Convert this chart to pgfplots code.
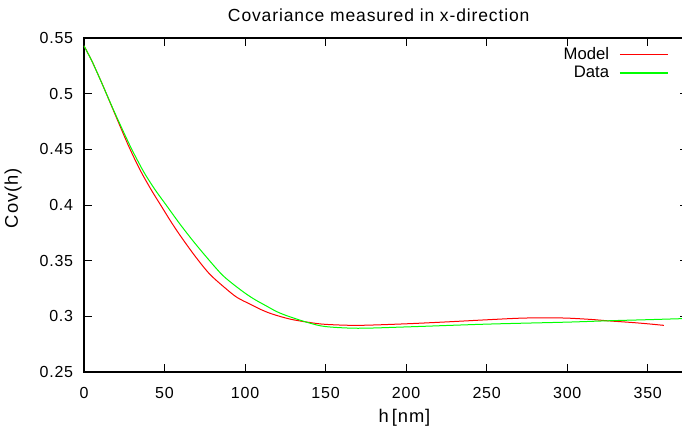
\documentclass[border=0pt]{standalone}
\usepackage{pgfplots}
\pgfplotsset{compat=1.18}
\usepackage{fontspec}
\setmainfont{Liberation Sans}
\newfontfamily\spaced{Liberation Sans}[LetterSpace=5]

% 1 px of the reference = 0.6pt
\begin{document}
\begin{tikzpicture}
\begin{axis}[
    at={(0,0)}, anchor=south west,
    scale only axis,
    width=362.4pt, height=200.4pt,
    xmin=0, xmax=375,
    ymin=0.25, ymax=0.55,
    xtick={0,50,...,350},
    ytick={0.25,0.3,0.35,0.4,0.45,0.5,0.55},
    yticklabels={0.25,0.3,0.35,0.4,0.45,0.5,0.55},
    tick align=inside,
    major tick length=4.8pt,
    tick style={black, line width=0.6pt},
    axis line style={line width=0.8pt},
    tick label style={font=\spaced\fontsize{9.6}{11}\selectfont},
    /pgf/number format/assume math mode=true,
    xticklabel style={yshift=-5.5pt},
    yticklabel style={xshift=-3pt},
    title={Covariance measured in x-direction},
    title style={font=\spaced\fontsize{10.5}{12}\selectfont, at={(rel axis cs:0.488,1.019)}, anchor=base},
    xlabel={h\,[nm]},
    ylabel={Cov(h)},
    label style={font=\spaced\fontsize{11}{13}\selectfont},
    xlabel style={at={(rel axis cs:0.5306,-0.1377)}, anchor=center},
    ylabel style={at={(rel axis cs:-0.1175,0.52)}, anchor=center},
    legend style={draw=none, fill=none, at={(rel axis cs:0.977,0.992)}, anchor=north east,
        font=\fontsize{10}{11}\selectfont, row sep=-1.5pt},
    legend cell align=right,
    legend plot pos=right,
    legend image code/.code={\path (0pt,0pt); \draw[#1] (4pt,0.2pt) -- (33pt,0.2pt);},
]
\addlegendimage{red, line width=0.8pt}
\addlegendentry{Model}
\addlegendimage{green, line width=0.8pt}
\addlegendentry{Data}
\addplot[red, line width=0.6pt, smooth, forget plot] coordinates {
(0,0.543)(5,0.529)(10,0.513)(13,0.503)(20,0.479)(28,0.452)(35,0.431)(42,0.413)
(48,0.399)(54,0.385)(60,0.372)(69,0.354)(78,0.338)(88,0.325)(95,0.317)(103,0.311)
(110,0.306)(117,0.302)(128,0.2975)(140,0.2945)(150,0.2928)(170,0.2919)(200,0.2933)
(225,0.295)(250,0.2969)(270,0.2983)(285,0.2987)(300,0.2984)(315,0.2972)(325,0.296)
(340,0.2945)(350,0.2933)(360,0.2919)
};
\addplot[green, line width=0.6pt, smooth, forget plot] coordinates {
(0,0.543)(5,0.529)(10,0.513)(13,0.503)(20,0.480)(29,0.452)(37,0.430)(44,0.414)
(51,0.400)(59,0.384)(67,0.369)(75,0.355)(86,0.337)(97,0.324)(105,0.316)(113,0.3095)
(120,0.304)(128,0.2995)(140,0.294)(150,0.2908)(170,0.2893)(200,0.2905)(250,0.293)
(300,0.2948)(325,0.296)(350,0.297)(375,0.2981)
};
\end{axis}
\pgfresetboundingbox
\useasboundingbox (-50.4pt,-34.8pt) rectangle (358.8pt,223.2pt);
\end{tikzpicture}
\end{document}
